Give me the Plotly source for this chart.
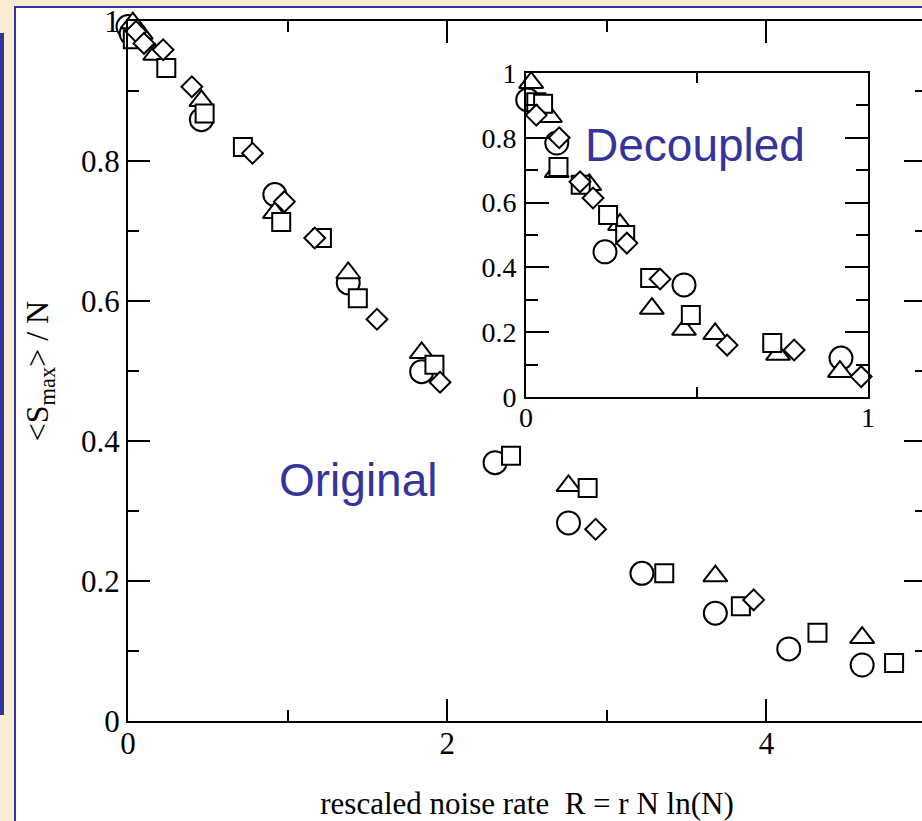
import plotly.graph_objects as go

# ---------------- data ----------------
# main panel: "Original"
orig_circle_x = [0.0, 0.02, 0.46, 0.92, 1.38, 1.84, 2.30, 2.76, 3.22, 3.68, 4.14, 4.60]
orig_circle_y = [0.992, 0.982, 0.859, 0.752, 0.626, 0.499, 0.369, 0.283, 0.211, 0.154, 0.103, 0.080]

orig_triangle_x = [0.03, 0.08, 0.17, 0.46, 0.92, 1.38, 1.84, 2.76, 3.68, 4.60]
orig_triangle_y = [0.997, 0.982, 0.952, 0.886, 0.726, 0.640, 0.526, 0.336, 0.207, 0.119]

orig_square_x = [0.03, 0.24, 0.48, 0.72, 0.96, 1.215, 1.44, 1.92, 2.40, 2.88, 3.36, 3.84, 4.32, 4.80]
orig_square_y = [0.974, 0.933, 0.868, 0.820, 0.713, 0.690, 0.604, 0.509, 0.379, 0.333, 0.211, 0.164, 0.126, 0.083]

orig_diamond_x = [0.05, 0.10, 0.22, 0.40, 0.78, 0.98, 1.17, 1.56, 1.955, 2.93, 3.92]
orig_diamond_y = [0.985, 0.968, 0.959, 0.906, 0.811, 0.742, 0.690, 0.574, 0.484, 0.274, 0.173]

# inset: "Decoupled"
dec_circle_x = [-0.005, 0.005, 0.09, 0.231, 0.462, 0.921]
dec_circle_y = [0.940, 0.917, 0.784, 0.448, 0.346, 0.120]

dec_triangle_x = [0.015, 0.07, 0.09, 0.185, 0.275, 0.368, 0.462, 0.553, 0.737, 0.918]
dec_triangle_y = [0.970, 0.865, 0.695, 0.655, 0.532, 0.273, 0.208, 0.195, 0.131, 0.078]

dec_square_x = [0.03, 0.05, 0.095, 0.16, 0.24, 0.29, 0.363, 0.482, 0.72]
dec_square_y = [0.910, 0.905, 0.710, 0.655, 0.562, 0.500, 0.367, 0.253, 0.167]

dec_diamond_x = [0.03, 0.097, 0.158, 0.196, 0.295, 0.392, 0.588, 0.784, 0.98]
dec_diamond_y = [0.870, 0.800, 0.664, 0.614, 0.475, 0.364, 0.160, 0.145, 0.063]

main_y_ticks = [0, 0.2, 0.4, 0.6, 0.8, 1]
main_y_labels = ["0", "0.2", "0.4", "0.6", "0.8", "1"]
main_x_ticks = [0, 2, 4]
main_x_labels = ["0", "2", "4"]
inset_x_ticks = [0, 1]
inset_x_labels = ["0", "1"]

# ---------------- layout geometry ----------------
W, H = 930, 821
BEIGE = "#FAEBD3"
BLUE = "#34349C"
SERIF = "Liberation Serif, Times New Roman, serif"
SANS = "Liberation Sans, Arial, sans-serif"


def px_x(p):
    return p / W


def px_y(p):
    return 1 - p / H


fig = go.Figure()

styles = [
    ("circle", 23),
    ("triangle-up", 21),
    ("square", 18),
    ("diamond", 16),
]
main_sets = [
    (orig_circle_x, orig_circle_y),
    (orig_triangle_x, orig_triangle_y),
    (orig_square_x, orig_square_y),
    (orig_diamond_x, orig_diamond_y),
]
inset_sets = [
    (dec_circle_x, dec_circle_y),
    (dec_triangle_x, dec_triangle_y),
    (dec_square_x, dec_square_y),
    (dec_diamond_x, dec_diamond_y),
]

for (sym, size), (xs, ys) in zip(styles, main_sets):
    fig.add_trace(go.Scatter(
        x=xs, y=ys, mode="markers", xaxis="x", yaxis="y",
        marker=dict(symbol=sym, size=size, color="white",
                    line=dict(color="black", width=2)),
        showlegend=False, hoverinfo="skip", cliponaxis=False))

for (sym, size), (xs, ys) in zip(styles, inset_sets):
    fig.add_trace(go.Scatter(
        x=xs, y=ys, mode="markers", xaxis="x2", yaxis="y2",
        marker=dict(symbol=sym, size=size, color="white",
                    line=dict(color="black", width=2)),
        showlegend=False, hoverinfo="skip", cliponaxis=False))

common = dict(showgrid=False, zeroline=False, showline=True, linecolor="black",
              linewidth=2, ticks="inside", tickcolor="black", tickwidth=2,
              mirror="ticks", automargin=False, color="black")

fig.update_layout(
    width=W, height=H,
    margin=dict(l=0, r=0, t=0, b=0),
    paper_bgcolor=BEIGE,
    plot_bgcolor="rgba(0,0,0,0)",
    xaxis=dict(
        **common, domain=[px_x(128), px_x(926)], range=[0, 5],
        tickvals=main_x_ticks, ticktext=main_x_labels, ticklen=22,
        minor=dict(dtick=1, tick0=0, ticks="inside", ticklen=11, tickwidth=2, tickcolor="black"),
        tickfont=dict(family=SERIF, size=31, color="black"),
        ticklabelstandoff=-6,
        anchor="y",
        title=dict(text="rescaled noise rate  R = r N ln(N)",
                   font=dict(family=SERIF, size=31, color="black"), standoff=40),
    ),
    yaxis=dict(
        **common, domain=[px_y(721), px_y(21)], range=[0, 1],
        tickvals=main_y_ticks, ticktext=main_y_labels, ticklen=22,
        minor=dict(dtick=0.1, tick0=0, ticks="inside", ticklen=11, tickwidth=2, tickcolor="black"),
        tickfont=dict(family=SERIF, size=31, color="black"),
        ticklabelstandoff=0,
        anchor="x",
        title=dict(text="&lt;S<sub>max</sub>&gt; / N",
                   font=dict(family=SERIF, size=32, color="black"), standoff=23),
    ),
    xaxis2=dict(
        **common, domain=[px_x(526), px_x(868)], range=[0, 1],
        tickvals=inset_x_ticks, ticktext=inset_x_labels, ticklen=10,
        minor=dict(dtick=0.5, tick0=0, ticks="inside", ticklen=10, tickwidth=2, tickcolor="black"),
        tickfont=dict(family=SERIF, size=28, color="black"),
        ticklabelstandoff=-6,
        anchor="y2",
    ),
    yaxis2=dict(
        **common, domain=[px_y(397), px_y(73)], range=[0, 1],
        tickvals=main_y_ticks, ticktext=main_y_labels, ticklen=23,
        minor=dict(dtick=0.1, tick0=0, ticks="inside", ticklen=12, tickwidth=2, tickcolor="black"),
        tickfont=dict(family=SERIF, size=28, color="black"),
        ticklabelstandoff=2,
        anchor="x2",
    ),
    shapes=[
        # white slide panel with thin blue border
        dict(type="rect", xref="paper", yref="paper", layer="below",
             x0=px_x(15), x1=px_x(W + 20), y0=px_y(H + 20), y1=px_y(7),
             fillcolor="white", line=dict(color=BLUE, width=2)),
        # dark blue bar on the left
        dict(type="rect", xref="paper", yref="paper", layer="below",
             x0=0, x1=px_x(4), y0=px_y(715), y1=px_y(33),
             fillcolor=BLUE, line=dict(width=0)),
    ],
    annotations=[
        dict(text="Original", x=1.447, y=0.344, xref="x", yref="y",
             showarrow=False, font=dict(family=SANS, size=46, color=BLUE)),
        dict(text="Decoupled", x=0.494, y=0.778, xref="x2", yref="y2",
             showarrow=False, font=dict(family=SANS, size=46, color=BLUE)),
    ],
)

fig.write_html(
    "out.html",
    config={"displayModeBar": False},
    post_script="document.body.style.margin='0';document.body.style.overflow='hidden';",
)
